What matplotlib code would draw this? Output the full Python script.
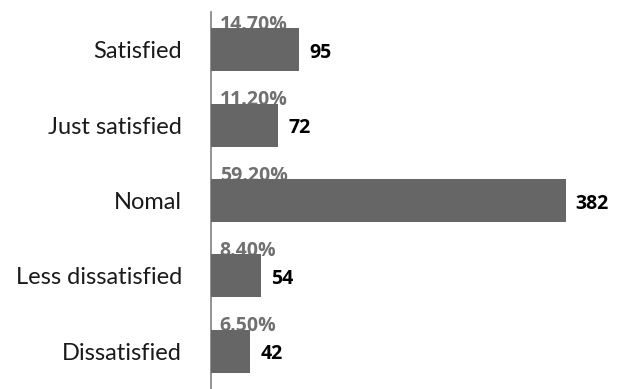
import matplotlib
matplotlib.use("Agg")
import matplotlib.pyplot as plt

categories = ["Satisfied", "Just satisfied", "Nomal", "Less dissatisfied", "Dissatisfied"]
counts = [95, 72, 382, 54, 42]
percents = ["14.70%", "11.20%", "59.20%", "8.40%", "6.50%"]

plt.rcParams['font.family'] = ['Lato', 'DejaVu Sans']

fig = plt.figure(figsize=(6.28, 3.89), dpi=100)
ax = fig.add_axes([211 / 628, 0, 0.665, 377 / 389])

ypos = list(range(len(categories)))[::-1]
bh = 0.57
bars = ax.barh(ypos, counts, height=bh, color='#666666', zorder=3)

ax.set_xlim(0, 450)
ax.set_ylim(-0.5, len(categories) - 0.5)

for y, c, p in zip(ypos, counts, percents):
    # percentage sits on the bar top, its lower edge tucked behind the bar
    ax.text(9.5, y + bh / 2 - 0.02, p, color='#707070', fontsize=14,
            family='Open Sans', fontweight='bold', ha='left', va='baseline', zorder=2)
    ax.text(c + 11, y - 0.04, str(c), color='black', fontsize=14,
            family='Open Sans', fontweight='bold', ha='left', va='center', zorder=4)

ax.set_yticks(ypos)
ax.set_yticklabels(categories, fontsize=17, color='#1a1a1a')
ax.tick_params(axis='y', length=0, pad=21)
ax.set_xticks([])
for side in ['top', 'right', 'bottom']:
    ax.spines[side].set_visible(False)
ax.spines['left'].set_color('#7f7f7f')
ax.spines['left'].set_linewidth(1.2)

fig.savefig("out.png", dpi=100)
